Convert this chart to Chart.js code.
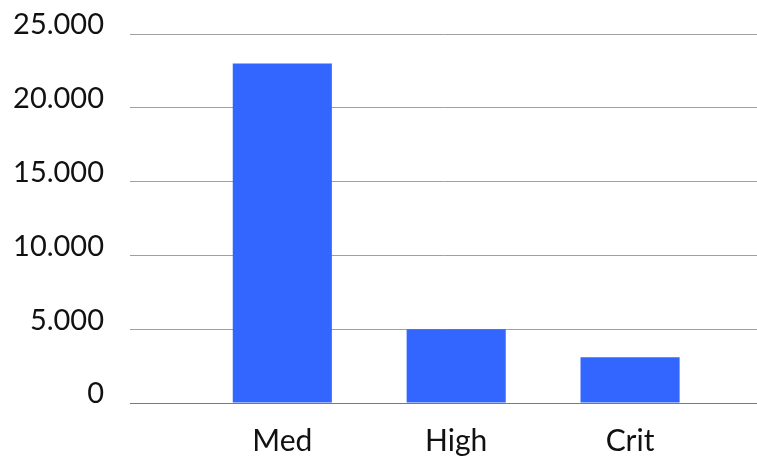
<!DOCTYPE html>
<html>
<head>
<meta charset="utf-8">
<script src="https://cdn.jsdelivr.net/npm/chart.js@4"></script>
<style>
  html, body { margin: 0; padding: 0; background: #fff; }
  #wrap { width: 757px; height: 456px; }
</style>
</head>
<body>
<div id="wrap"><canvas id="chart"></canvas></div>
<script>
// data
const categories = ["Med", "High", "Crit"];
const counts = [23000, 5000, 3100];
const yTicks = [0, 5000, 10000, 15000, 20000, 25000];

// 23000 -> "23.000"
const fmt = v => String(v).replace(/\B(?=(\d{3})+(?!\d))/g, ".");

const ctx = document.getElementById("chart").getContext("2d");
new Chart(ctx, {
  type: "bar",
  data: {
    datasets: [{
      data: counts.map((v, i) => ({ x: i, y: v })),
      backgroundColor: "#3366ff",
      borderWidth: 0,
      categoryPercentage: 1,
      barPercentage: 0.57
    }]
  },
  options: {
    responsive: true,
    maintainAspectRatio: false,
    animation: false,
    layout: { padding: { top: 34, right: 0, bottom: 0, left: 0 } },
    plugins: { legend: { display: false }, tooltip: { enabled: false } },
    scales: {
      x: {
        type: "linear",
        offset: false,
        min: -0.876,
        max: 2.73,
        grid: { display: false },
        border: { display: true, color: "#7a7a7a", width: 1 },
        ticks: {
          includeBounds: false,
          stepSize: 1,
          padding: 12,
          color: "#111",
          font: { family: "Lato", size: 30 },
          callback: v => categories[v] ?? ""
        },
        afterBuildTicks: s => {
          s.ticks = s.ticks.filter(t => Number.isInteger(t.value) && t.value >= 0 && t.value < categories.length);
        },
        afterFit: s => { s.height = 53; s.paddingLeft = 0; s.paddingRight = 0; }
      },
      y: {
        min: 0,
        max: 25000,
        grid: {
          drawTicks: false,
          color: c => (c.tick && c.tick.value === 0) ? "#7a7a7a" : "#a0a0a0",
          lineWidth: 1
        },
        border: { display: false },
        ticks: {
          stepSize: 5000,
          padding: 26,
          labelOffset: -9,
          color: "#111",
          font: { family: "Lato", size: 29 },
          callback: v => yTicks.includes(v) ? fmt(v) : ""
        },
        afterFit: s => { s.width = 130; s.paddingTop = 0; s.paddingBottom = 0; }
      }
    }
  }
});
</script>
</body>
</html>
